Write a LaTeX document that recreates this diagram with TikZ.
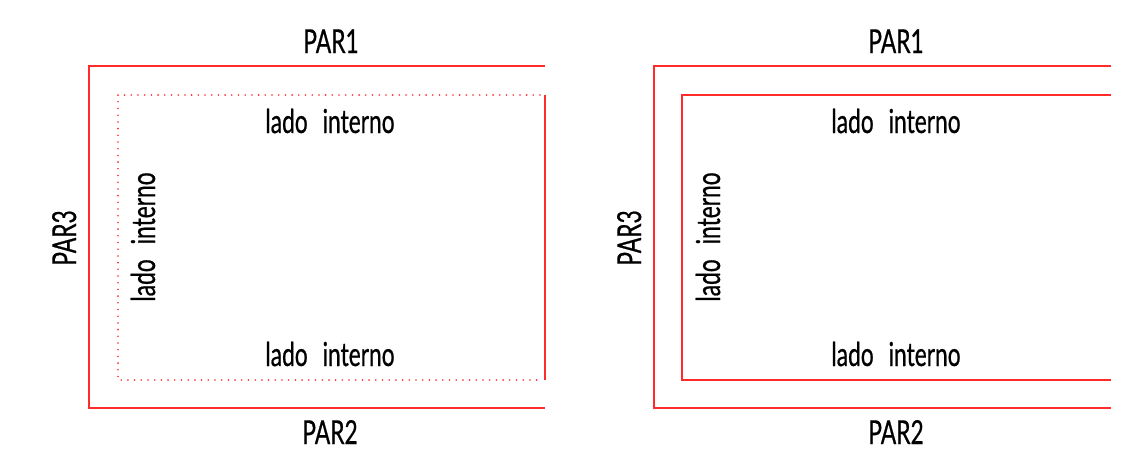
\documentclass[tikz,border=0pt]{standalone}
\usepackage{fontspec}
\setmainfont[FakeStretch=0.69, FakeBold=0.6]{Lato}
\definecolor{wallred}{HTML}{FF2A2A}
\newcommand{\ladoint}{lado\hspace{0.45em}interno}
\tikzset{
  wall/.style={draw=wallred, line width=1.8pt},
  dotwall/.style={draw=wallred, line width=1.8pt, line cap=round, dash pattern=on 0pt off 6.7pt},
  lbl/.style={font=\fontsize{33}{36}\selectfont, inner sep=0pt, anchor=base, text=black},
  vlbl/.style={lbl, rotate=90}
}
\begin{document}
\begin{tikzpicture}[x=1pt,y=-1pt]
\useasboundingbox (0,0) rectangle (1147,450);
% ---------- left diagram ----------
\draw[wall] (545,66) -- (89,66) -- (89,408) -- (545,408);
\draw[dotwall] (540,95) -- (118,95) -- (118,380) -- (540,380);
\draw[wall] (545,95) -- (545,380);
\node[lbl] (p1a) at (331,53) {PAR1};
\node[lbl] (p2a) at (330,444) {PAR2};
\node[vlbl] (p3a) at (76,238) {PAR3};
\node[lbl] (lta) at (330,133) {\ladoint};
\node[lbl] (lba) at (330,366) {\ladoint};
\node[vlbl] (lla) at (155,237) {\ladoint};
% ---------- right diagram ----------
\draw[wall] (1111,66) -- (654,66) -- (654,408) -- (1111,408);
\draw[wall] (1111,95) -- (682,95) -- (682,380) -- (1111,380);
\node[lbl] (p1b) at (896,53) {PAR1};
\node[lbl] (p2b) at (896,444) {PAR2};
\node[vlbl] (p3b) at (641,238) {PAR3};
\node[lbl] (ltb) at (896,133) {\ladoint};
\node[lbl] (lbb) at (896,366) {\ladoint};
\node[vlbl] (llb) at (720,237) {\ladoint};
\end{tikzpicture}
\end{document}
